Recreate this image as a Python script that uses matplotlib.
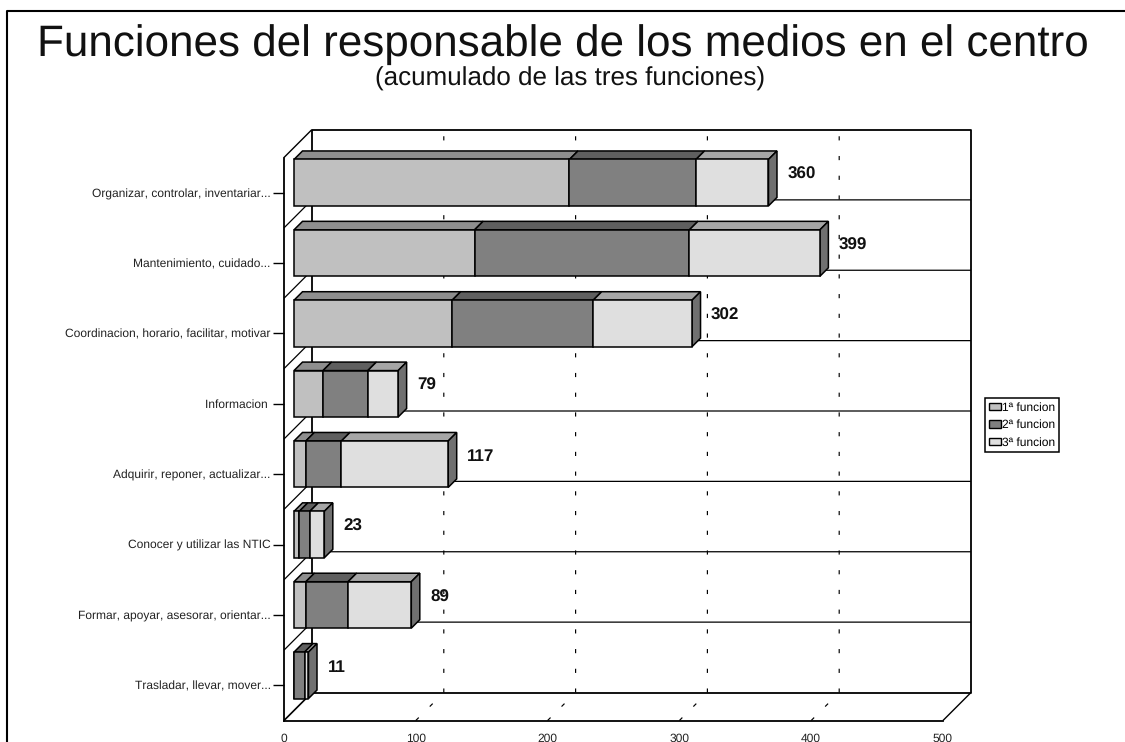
import matplotlib
matplotlib.use("Agg")
import matplotlib.pyplot as plt
from matplotlib.patches import Polygon, Patch
from matplotlib.lines import Line2D
from matplotlib.transforms import Affine2D, IdentityTransform

categories = ["Organizar, controlar, inventariar...", "Mantenimiento, cuidado...",
              "Coordinacion, horario, facilitar, motivar", "Informacion ",
              "Adquirir, reponer, actualizar...", "Conocer y utilizar las NTIC",
              "Formar, apoyar, asesorar, orientar...", "Trasladar, llevar, mover..."]
funcion1 = [209, 137, 120, 22, 9, 4, 9, 0]
funcion2 = [96, 163, 107, 34, 27, 8, 32, 8]
funcion3 = [55, 99, 75, 23, 81, 11, 48, 3]
totals = [360, 399, 302, 79, 117, 23, 89, 11]
series_names = ["1ª funcion", "2ª funcion", "3ª funcion"]
x_ticks = [0, 100, 200, 300, 400, 500]

plt.rcParams['font.family'] = ['Liberation Sans', 'DejaVu Sans']
plt.rcParams['lines.scale_dashes'] = False
plt.rcParams['text.hinting'] = 'no_hinting'
plt.rcParams['text.hinting_factor'] = 1

W, H = 1125, 742
fig = plt.figure(figsize=(W / 100, H / 100), dpi=100, facecolor='white')
ax = fig.add_axes([284 / W, (H - 720.5) / H, 659 / W, 563 / H])
ax.set_xlim(0, 500)
ax.set_ylim(7.5, -0.5)
fig.canvas.draw()

WALL = 28      # px depth of the chart box
BAR0 = 10      # px from the front plane to the bar front
BARD = 8.5     # px depth of a bar
HEIGHT = 0.66
LW = 1.1
ident = IdentityTransform()


def pt(x, y, d=0.0):
    px, py = ax.transData.transform((x, y))
    return (px + d, py + d)


def line(points, lw=1.0, color='black', z=1, **kw):
    xs, ys = zip(*points)
    fig.add_artist(Line2D(xs, ys, transform=ident, lw=lw, color=color, zorder=z,
                          solid_capstyle='butt', **kw))


# page frame, running past the right and bottom edges
line([(6.5, -5), (6.5, H - 10.5), (W + 5, H - 10.5)], lw=1.5, z=0)

ax.patch.set_alpha(0)
ax.set_zorder(3)
for s in ('top', 'right'):
    ax.spines[s].set_visible(False)
for s in ('left', 'bottom'):
    ax.spines[s].set_linewidth(1.3)
    ax.spines[s].set_zorder(1)

# dashed gridlines: floor diagonal then up the back wall
for v in x_ticks[1:-1]:
    line([pt(v, 7.5), pt(v, 7.5, WALL), pt(v, -0.5, WALL)[0:2]], lw=0.85, z=1,
         dashes=(3.0, 11.2))

# wall dividers
for k in range(1, 8):
    y = k - 0.5
    line([pt(0, y), pt(0, y, WALL), pt(500, y, WALL)], lw=0.9, z=1)

# box outline
line([pt(0, -0.5, WALL), pt(500, -0.5, WALL), pt(500, 7.5, WALL), pt(0, 7.5, WALL), pt(0, -0.5, WALL)], lw=1.3, z=1)
line([pt(0, -0.5), pt(0, -0.5, WALL)], lw=1.0, z=1)
line([pt(0, 7.5), pt(0, 7.5, WALL)], lw=1.2, z=1)
line([pt(500, 7.5), pt(500, 7.5, WALL)], lw=1.0, z=1)

front_colors = ['#C0C0C0', '#808080', '#DFDFDF']
top_colors = ['#8E8E8E', '#5F5F5F', '#A6A6A6']
side_color = '#707070'
front_tf = Affine2D().translate(BAR0, BAR0)
tfm = ax.transData + front_tf
ys = list(range(len(categories)))

handles = []
lefts = [0] * len(categories)
for vals, fc, tc, name in zip([funcion1, funcion2, funcion3], front_colors, top_colors, series_names):
    bars = ax.barh(ys, vals, left=lefts, height=HEIGHT, color=fc, edgecolor='black',
                   linewidth=LW, transform=tfm, clip_on=False, zorder=5)
    for y, v, l in zip(ys, vals, lefts):
        if v == 0:
            continue
        tp = y - HEIGHT / 2
        a, b = pt(l, tp, BAR0), pt(l + v, tp, BAR0)
        poly = Polygon([a, b, (b[0] + BARD, b[1] + BARD), (a[0] + BARD, a[1] + BARD)],
                       closed=True, transform=ident, facecolor=tc, edgecolor='black',
                       linewidth=LW, clip_on=False, zorder=4)
        ax.add_patch(poly)
    handles.append(Patch(facecolor=fc, edgecolor='black', linewidth=1.0, label=name))
    lefts = [l + v for l, v in zip(lefts, vals)]

# right end faces and totals
for y, t in zip(ys, totals):
    tp, bt = y - HEIGHT / 2, y + HEIGHT / 2
    a, b = pt(t, tp, BAR0), pt(t, bt, BAR0)
    ax.add_patch(Polygon([a, b, (b[0] + BARD, b[1] + BARD), (a[0] + BARD, a[1] + BARD)],
                         closed=True, transform=ident, facecolor=side_color, edgecolor='black',
                         linewidth=LW, clip_on=False, zorder=4))
    ax.annotate(str(t), xy=(t, y), xytext=(19 * 0.72, 8 * 0.72), textcoords='offset points',
                xycoords=tfm, ha='left', va='center', fontsize=12.5, fontweight='bold',
                color='#111111', zorder=6, annotation_clip=False)

ax.set_yticks(ys)
ax.set_yticklabels(categories, fontsize=8.4, color='#222222')
ax.tick_params(axis='y', length=8, width=1.0, pad=1.5)
ax.set_xticks(x_ticks)
ax.set_xticklabels([str(v) for v in x_ticks], fontsize=8.4, color='#222222')
ax.tick_params(axis='x', length=0, pad=9)

fig.text(562.5 / W, (H - 57) / H, "Funciones del responsable de los medios en el centro",
         ha='center', va='baseline', fontsize=31.6, color='#111111')
fig.text(570 / W, (H - 86) / H, "(acumulado de las tres funciones)",
         ha='center', va='baseline', fontsize=19, color='#111111')

leg = fig.legend(handles=handles, loc='center left', bbox_to_anchor=(985 / W, (H - 425) / H),
                 fontsize=8.4, frameon=True, fancybox=False, framealpha=1, edgecolor='black',
                 borderpad=0.3, labelspacing=0.55, handlelength=1.1, handleheight=0.6,
                 handletextpad=0.1, borderaxespad=0)
leg.get_frame().set_linewidth(1.1)

fig.savefig("out.png", dpi=100)
